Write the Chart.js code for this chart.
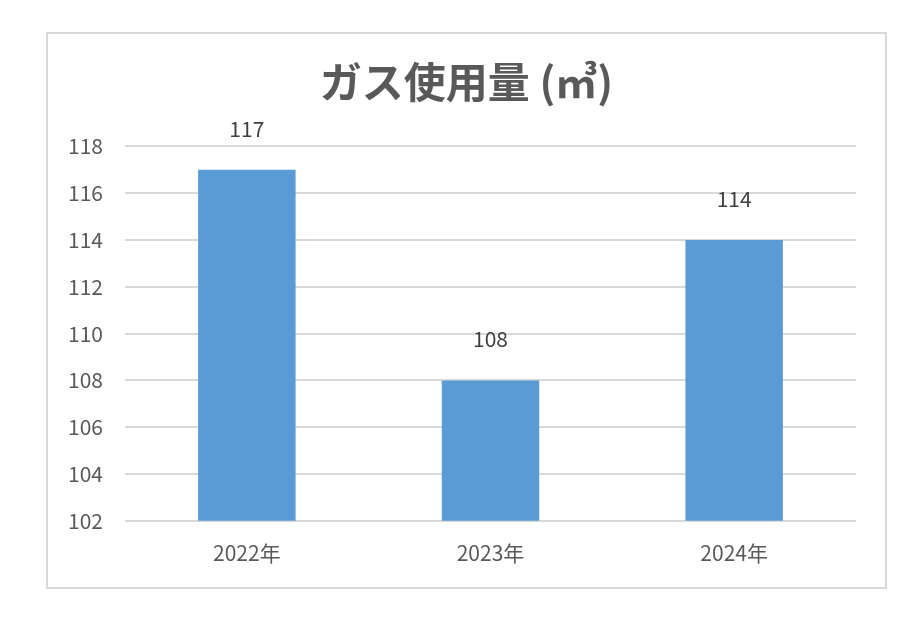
<!DOCTYPE html>
<html><head><meta charset="utf-8">
<script src="https://cdn.jsdelivr.net/npm/chart.js@4/dist/chart.umd.min.js"></script>
<style>html,body{margin:0;padding:0;background:#fff;}#wrap{width:914px;height:623px;}</style>
</head><body><div id="wrap"><canvas id="c" width="914" height="623"></canvas></div>
<script>
const categories = ['2022年', '2023年', '2024年'];
const gasUsage = [117, 108, 114];
const yTicks = [102, 104, 106, 108, 110, 112, 114, 116, 118];
const chartTitle = 'ガス使用量 (㎥)';

const FONT = '"Noto Sans CJK JP", "Noto Sans", sans-serif';

const boxPlugin = {
  id: 'box',
  beforeDraw(chart) {
    const ctx = chart.ctx;
    ctx.save();
    ctx.fillStyle = '#fff';
    ctx.fillRect(0, 0, chart.width, chart.height);
    ctx.strokeStyle = '#d9d9d9';
    ctx.lineWidth = 2;
    ctx.strokeRect(47, 33, 839, 555);
    ctx.restore();
  }
};

const labelPlugin = {
  id: 'barLabels',
  afterDatasetsDraw(chart) {
    const ctx = chart.ctx;
    const meta = chart.getDatasetMeta(0);
    ctx.save();
    ctx.font = '21px ' + FONT;
    ctx.fillStyle = '#404040';
    ctx.textAlign = 'center';
    ctx.textBaseline = 'middle';
    meta.data.forEach((bar, i) => {
      ctx.fillText(String(chart.data.datasets[0].data[i]), bar.x, bar.y - 41);
    });
    ctx.restore();
  }
};

new Chart(document.getElementById('c'), {
  type: 'bar',
  data: {
    labels: categories,
    datasets: [{
      data: gasUsage,
      backgroundColor: '#5b9bd5',
      borderWidth: 0,
      barPercentage: 0.5,
      categoryPercentage: 0.8
    }]
  },
  options: {
    responsive: false,
    animation: false,
    layout: { padding: { left: 47, right: 28, top: 33, bottom: 37 } },
    plugins: {
      legend: { display: false },
      tooltip: { enabled: false },
      title: {
        display: true,
        text: chartTitle,
        color: '#595959',
        font: { family: FONT, size: 42, weight: 'bold', lineHeight: 1.2 },
        padding: { top: 24, bottom: 39 }
      }
    },
    scales: {
      x: {
        grid: { display: false, drawTicks: false },
        border: { display: false },
        ticks: { color: '#595959', font: { family: FONT, size: 21 }, padding: 20 }
      },
      y: {
        min: 102, max: 118,
        afterBuildTicks(scale) { scale.ticks = yTicks.map(v => ({ value: v })); },
        afterFit(scale) { scale.width = 78; },
        grid: { color: '#d9d9d9', lineWidth: 2, drawTicks: false },
        border: { display: false },
        ticks: { color: '#595959', font: { family: FONT, size: 21 }, padding: 22 }
      },
      yRight: {
        position: 'right',
        min: 102, max: 118,
        afterFit(scale) { scale.width = 30; },
        grid: { display: false, drawTicks: false },
        border: { display: false },
        ticks: { display: false }
      }
    }
  },
  plugins: [boxPlugin, labelPlugin]
});
</script></body></html>
